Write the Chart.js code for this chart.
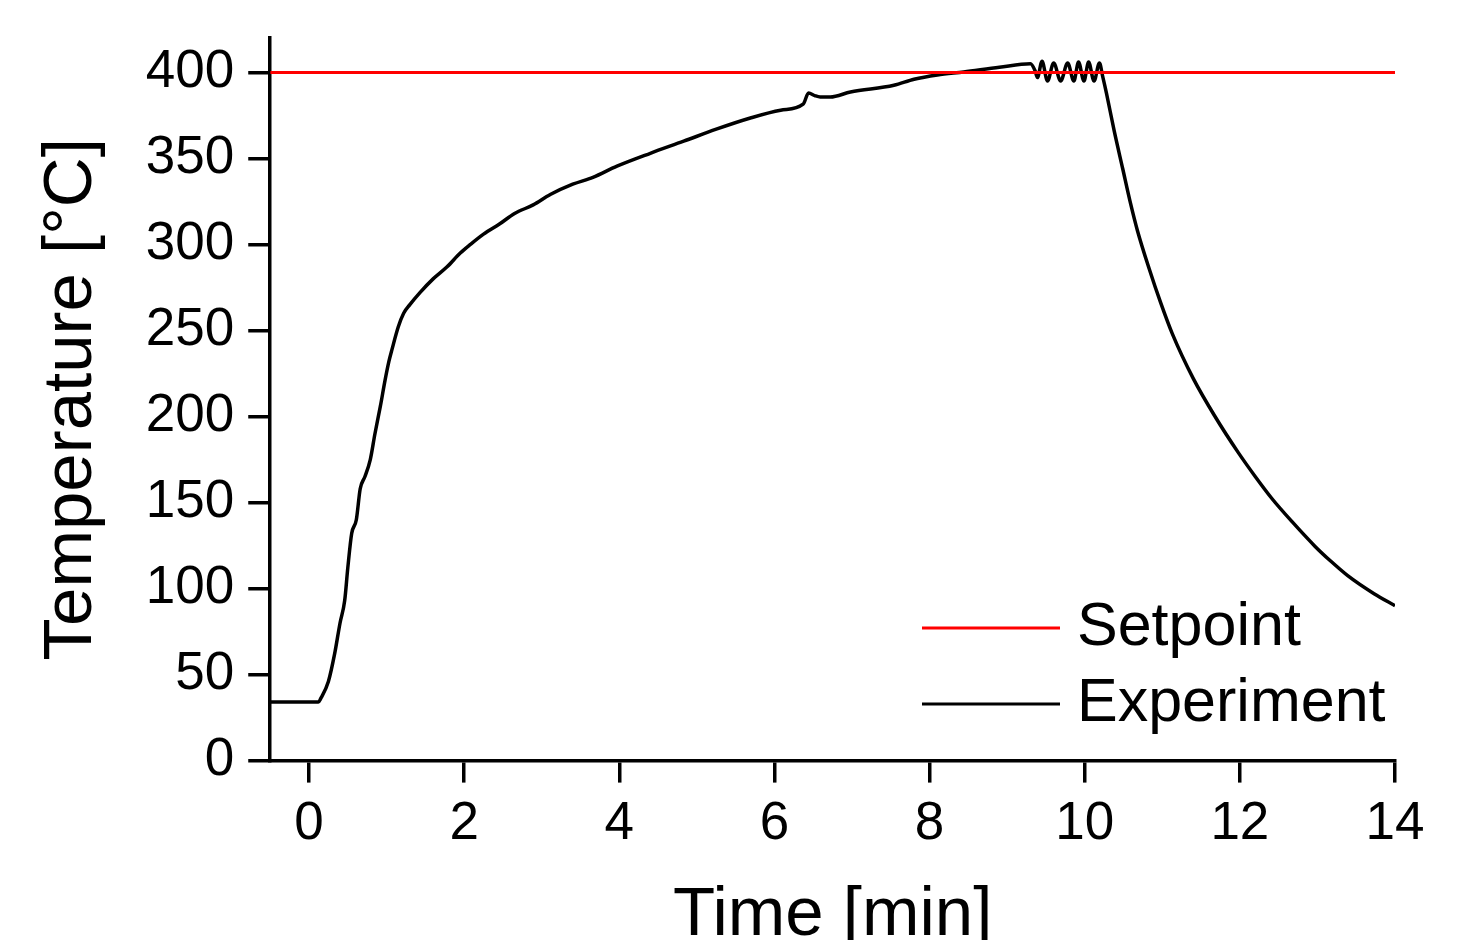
<!DOCTYPE html>
<html>
<head>
<meta charset="utf-8">
<title>Temperature</title>
<script src="https://cdn.jsdelivr.net/npm/chart.js@4/dist/chart.umd.min.js"></script>
<style>
  html, body { margin: 0; padding: 0; background: #fff; }
  #wrap { width: 1479px; height: 940px; position: relative; }
</style>
</head>
<body>
<div id="wrap"><canvas id="temp-chart"></canvas></div>
<script>
// Define the data
var expTime = [-0.5, 0.12, 0.15, 0.25, 0.33, 0.40, 0.46, 0.50, 0.55, 0.61, 0.66, 0.72, 0.79, 0.85, 0.92, 0.98, 1.03, 1.07, 1.15, 1.22,
  1.30, 1.43, 1.60, 1.78, 1.95, 2.08, 2.25, 2.46, 2.65, 2.89, 3.11, 3.40, 3.66, 3.97, 4.40, 4.83, 5.25, 5.69, 6.08, 6.37,
  6.44, 6.52, 6.59, 6.72, 6.98, 7.54, 7.80, 8.10, 8.44, 8.90, 9.30, 9.36, 9.39, 9.45, 9.52, 9.60, 9.69, 9.78, 9.86, 9.92,
  9.99, 10.05, 10.12, 10.19, 10.23, 10.28, 10.38, 10.49, 10.59, 10.68, 10.83, 10.98, 11.13, 11.40, 11.68, 11.98, 12.20, 12.41, 12.67, 12.97,
  13.17, 13.39, 13.73, 14.0];
var expTemp = [34, 34, 36, 46, 62, 80, 93, 112, 132, 140, 158, 165, 175, 190, 206, 221, 232, 239, 252, 260,
  265, 272, 280, 287, 295, 300, 306, 312, 318, 323, 329, 335, 339, 345.5, 353, 360, 367, 373.5, 378, 381.5,
  388, 386.5, 385.7, 385.7, 388.6, 392.5, 396, 398.5, 400.3, 403, 405, 401, 397, 406.5, 395, 405.5, 395, 405.5, 395, 406,
  395, 406, 395, 405.5, 398, 388, 366, 344, 324, 308, 286, 266, 248, 222, 200, 179, 165, 152.5, 139, 124.5,
  116, 107.5, 97, 90];

var setTime = [-0.5, 14];
var setTemp = [400, 400];

var xTicks = [0, 2, 4, 6, 8, 10, 12, 14];
var yTicks = [0, 50, 100, 150, 200, 250, 300, 350, 400];
// End Defining data

function toPoints(xs, ys) {
  return xs.map(function (x, i) { return { x: x, y: ys[i] }; });
}

var FONT = "'Liberation Sans', Arial, sans-serif";

// legend drawn inside the plot, bottom right
var innerLegend = {
  id: "innerLegend",
  afterDraw: function (chart) {
    var ctx = chart.ctx;
    var rows = [628, 704];
    ctx.save();
    ctx.font = "61px " + FONT;
    ctx.textBaseline = "middle";
    chart.data.datasets.forEach(function (ds, i) {
      ctx.strokeStyle = ds.borderColor;
      ctx.lineWidth = 3;
      ctx.beginPath();
      ctx.moveTo(922, rows[i]);
      ctx.lineTo(1060, rows[i]);
      ctx.stroke();
      ctx.fillStyle = "#000";
      ctx.fillText(ds.label, 1077, rows[i]);
    });
    ctx.restore();
  }
};

var ctx = document.getElementById("temp-chart").getContext("2d");
var myChart = new Chart(ctx, {
  type: "line",
  data: {
    datasets: [
      {
        label: "Setpoint",
        data: toPoints(setTime, setTemp),
        borderColor: "#ff0000",
        borderWidth: 3,
        pointRadius: 0,
        fill: false
      },
      {
        label: "Experiment",
        data: toPoints(expTime, expTemp),
        borderColor: "#000000",
        borderWidth: 3.5,
        pointRadius: 0,
        cubicInterpolationMode: "monotone",
        fill: false
      }
    ]
  },
  options: {
    responsive: true,
    maintainAspectRatio: false,
    animation: false,
    layout: { padding: { left: 31, right: 84, top: 38, bottom: -17 } },
    plugins: { legend: { display: false }, tooltip: { enabled: false } },
    scales: {
      x: {
        type: "linear",
        min: -0.5,
        max: 14,
        afterBuildTicks: function (scale) { scale.ticks = xTicks.map(function (v) { return { value: v }; }); },
        border: { display: true, color: "#000", width: 3.5 },
        grid: { drawOnChartArea: false, color: "#000", lineWidth: 3.5, tickLength: 22 },
        ticks: { color: "#000", font: { family: FONT, size: 53 }, padding: 10, maxRotation: 0 },
        title: { display: true, text: "Time [min]", color: "#000", font: { family: FONT, size: 69 }, padding: { top: 8, bottom: 0 } }
      },
      y: {
        type: "linear",
        min: 0,
        max: 420,
        afterBuildTicks: function (scale) { scale.ticks = yTicks.map(function (v) { return { value: v }; }); },
        border: { display: true, color: "#000", width: 3.5 },
        grid: { drawOnChartArea: false, color: "#000", lineWidth: 3.5, tickLength: 22 },
        ticks: { color: "#000", font: { family: FONT, size: 53, lineHeight: 0.8 }, padding: 14 },
        title: { display: true, text: "Temperature [°C]", color: "#000", font: { family: FONT, size: 69 }, padding: { top: 0, bottom: 18 } }
      }
    }
  },
  plugins: [innerLegend]
});
</script>
</body>
</html>
